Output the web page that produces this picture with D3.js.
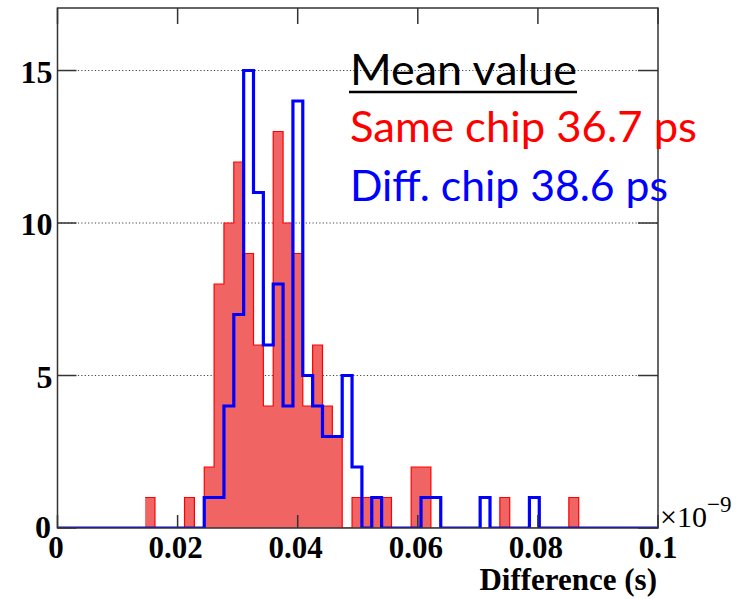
<!DOCTYPE html>
<html>
<head>
<meta charset="utf-8">
<script src="https://cdn.jsdelivr.net/npm/d3@7"></script>
<style>
  body { margin: 0; background: #fff; }
  svg { display: block; }
</style>
</head>
<body>
<div id="container"></div>
<script>
// histogram binning (x in units of 1e-9 s)
const binLow = 0.01459;
const binWidth = 0.001641;

// counts per bin
const sameChip = [1,0,0,0,1,0,2,8,10,12,9,6,4,13,10,9,4,6,4,3,0,1,1,1,1,0,0,2,2,0,0,0,0,0,0,0,1,0,0,0,0,0,0,1];
const diffChip = [0,0,0,0,0,0,1,1,4,7,15,11,6,8,4,14,5,4,3,3,5,2,0,1,0,0,0,0,1,1,0,0,0,0,1,0,0,0,0,1,0,0,0,0];

const xTicks = [0, 0.02, 0.04, 0.06, 0.08, 0.1];
const xTickLabels = ["0", "0.02", "0.04", "0.06", "0.08", "0.1"];
const yTicks = [0, 5, 10, 15];
const yGrid = [5, 10, 15];

const legendLines = [
  {text: "Mean value", color: "#000", len: 227},
  {text: "Same chip 36.7 ps", color: "#ff0000", len: 347},
  {text: "Diff. chip 38.6 ps", color: "#0000ff", len: 318}
];

const W = 747, H = 599;
const mLeft = 57.5, mRight = 658, mTop = 8, mBottom = 528;

const svg = d3.select("#container").append("svg")
  .attr("width", W)
  .attr("height", H);

const x = d3.scaleLinear().domain([0, 0.1]).range([mLeft, mRight]);
const y = d3.scaleLinear().domain([0, 17.05]).range([mBottom, mTop]);

const defs = svg.append("defs");
defs.append("clipPath").attr("id", "plot")
  .append("rect").attr("x", mLeft).attr("y", mTop - 3)
  .attr("width", mRight - mLeft).attr("height", mBottom - mTop + 3);

// grid
svg.append("g").selectAll("line")
  .data(yGrid)
  .join("line")
  .attr("x1", mLeft).attr("x2", mRight)
  .attr("y1", d => y(d)).attr("y2", d => y(d))
  .attr("stroke", "#444").attr("stroke-width", 1.2)
  .attr("stroke-dasharray", "1.2,2.2");

// step points
function steps(counts, fromZero) {
  const pts = [];
  if (fromZero) pts.push([0, 0]);
  counts.forEach((c, i) => pts.push([binLow + i * binWidth, c]));
  pts.push([binLow + counts.length * binWidth, 0]);
  if (fromZero) pts.push([0.1, 0]);
  return pts;
}

const plot = svg.append("g").attr("clip-path", "url(#plot)");

const redPts = steps(sameChip, false);
plot.append("path")
  .attr("d", d3.area().curve(d3.curveStepAfter)
    .x(d => x(d[0])).y0(y(0)).y1(d => y(d[1]))(redPts))
  .attr("fill", "#f06464");
plot.append("path")
  .attr("d", d3.line().curve(d3.curveStepAfter)
    .x(d => x(d[0])).y(d => y(d[1]))(redPts))
  .attr("fill", "none").attr("stroke", "#ff0000").attr("stroke-width", 1.2);

// frame
svg.append("rect")
  .attr("x", mLeft).attr("y", mTop)
  .attr("width", mRight - mLeft).attr("height", mBottom - mTop)
  .attr("fill", "none").attr("stroke", "#333").attr("stroke-width", 1.5);

// ticks
const tk = svg.append("g").attr("stroke", "#333").attr("stroke-width", 1.5);
xTicks.forEach(t => {
  tk.append("line").attr("x1", x(t)).attr("x2", x(t)).attr("y1", mBottom).attr("y2", mBottom - 13);
  tk.append("line").attr("x1", x(t)).attr("x2", x(t)).attr("y1", mTop).attr("y2", mTop + 16);
});
yTicks.forEach(t => {
  tk.append("line").attr("x1", mLeft).attr("x2", mLeft + 19).attr("y1", y(t)).attr("y2", y(t));
  tk.append("line").attr("x1", mRight).attr("x2", mRight - 20).attr("y1", y(t)).attr("y2", y(t));
});

// blue histogram on top
plot.append("path")
  .attr("d", d3.line().curve(d3.curveStepAfter)
    .x(d => x(d[0])).y(d => y(d[1]))(steps(diffChip, true)))
  .attr("fill", "none").attr("stroke", "#0000ff").attr("stroke-width", 3.2);

// tick labels
const serif = "'Liberation Serif', 'Times New Roman', serif";
svg.append("g").selectAll("text")
  .data(yTicks)
  .join("text")
  .attr("x", d => d === 0 ? 51 : 52.5)
  .attr("y", d => y(d) + (d === 0 ? 10 : 12))
  .attr("text-anchor", "end")
  .attr("font-family", serif).attr("font-weight", "bold").attr("font-size", 32)
  .text(d => d);

svg.append("g").selectAll("text")
  .data(xTicks)
  .join("text")
  .attr("x", (d, i) => x(d) - (i === 0 ? 1.5 : i === xTicks.length - 1 ? 0 : 2))
  .attr("y", 558)
  .attr("text-anchor", "middle")
  .attr("font-family", serif).attr("font-weight", "bold").attr("font-size", 31)
  .text((d, i) => xTickLabels[i]);

const expo = svg.append("text")
  .attr("x", 660).attr("y", 527)
  .attr("font-family", serif).attr("font-size", 30);
expo.append("tspan").text("\u00d710");
expo.append("tspan").attr("dy", -15).attr("font-size", 23).text("\u22129");

svg.append("text")
  .attr("x", 657).attr("y", 590)
  .attr("text-anchor", "end")
  .attr("font-family", serif).attr("font-weight", "bold").attr("font-size", 31)
  .text("Difference (s)");

// legend text
const baselines = [85, 142, 201];
legendLines.forEach((d, i) => {
  svg.append("text")
    .attr("x", 350).attr("y", baselines[i])
    .attr("font-family", "Lato, 'Open Sans', sans-serif")
    .attr("font-size", 42)
    .attr("fill", d.color)
    .attr("textLength", d.len)
    .attr("lengthAdjust", "spacingAndGlyphs")
    .text(d.text);
});
svg.append("line")
  .attr("x1", 349).attr("x2", 577)
  .attr("y1", 92).attr("y2", 92)
  .attr("stroke", "#000").attr("stroke-width", 2.5);
</script>
</body>
</html>
